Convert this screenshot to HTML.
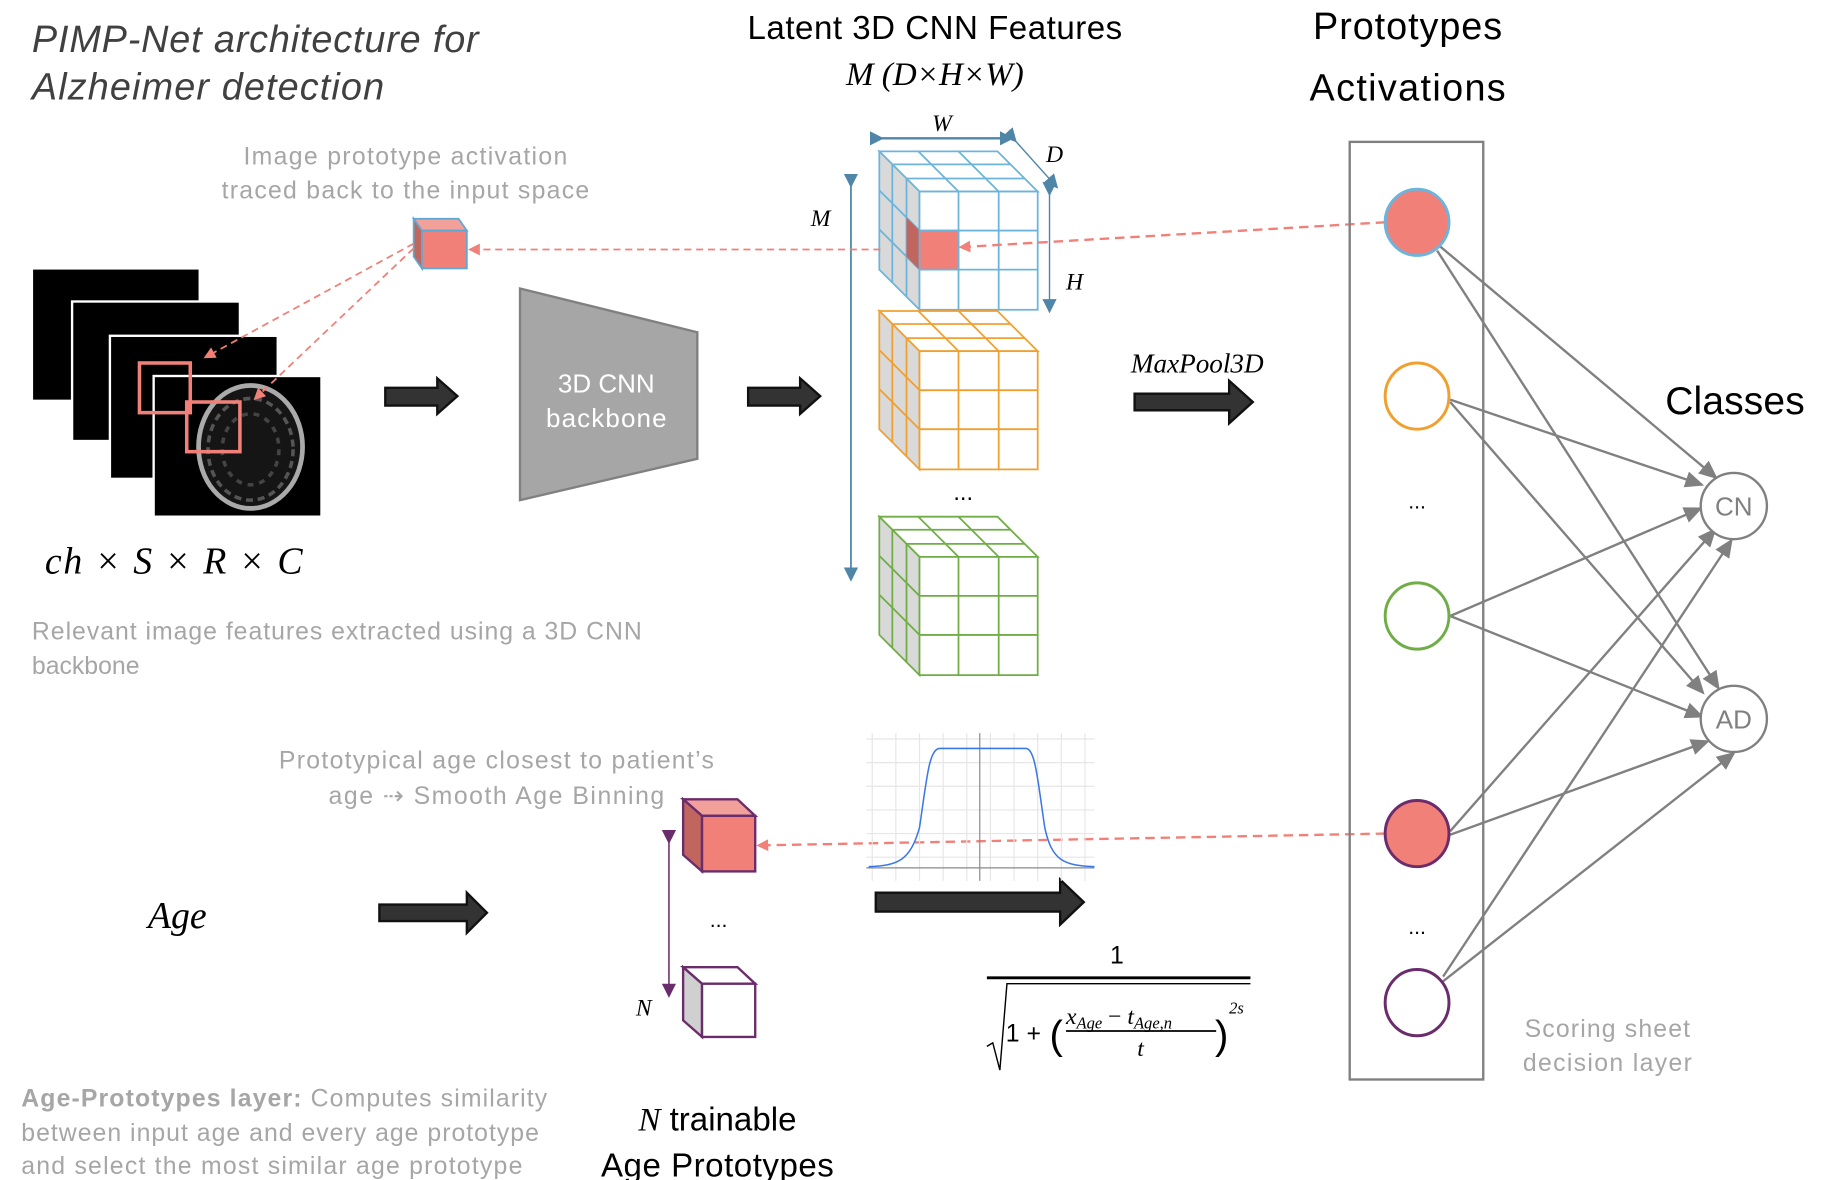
<!DOCTYPE html>
<html><head><meta charset="utf-8"><style>
html,body{margin:0;padding:0;background:#fff;}
svg{display:block;}
text{font-family:"Liberation Sans",sans-serif;}
.g{fill:#a6a6a6;font-size:21px;}
.m{font-family:"Liberation Serif",serif;font-style:italic;}
</style></head><body>
<svg width="1826" height="1180" viewBox="0 0 1545 998" preserveAspectRatio="none" xmlns="http://www.w3.org/2000/svg">
<defs>
<marker id="ar" markerWidth="10" markerHeight="10" refX="8" refY="5" orient="auto" markerUnits="userSpaceOnUse"><path d="M0,0 L10,5 L0,10 Z" fill="#f08078"/></marker>
<marker id="ag" markerWidth="16" markerHeight="14" refX="14" refY="7" orient="auto" markerUnits="userSpaceOnUse"><path d="M0,0 L16,7 L0,14 Z" fill="#808080"/></marker>
<marker id="ab" markerWidth="12" markerHeight="12" refX="10" refY="6" orient="auto" markerUnits="userSpaceOnUse"><path d="M0,0 L12,6 L0,12 Z" fill="#4f86a8"/></marker>
<marker id="ap" markerWidth="12" markerHeight="12" refX="10" refY="6" orient="auto" markerUnits="userSpaceOnUse"><path d="M0,0 L12,6 L0,12 Z" fill="#6b2c6b"/></marker>
</defs>

<!-- titles -->
<text x="27" y="44" font-size="32" font-style="italic" fill="#404040" textLength="378">PIMP-Net architecture for</text>
<text x="27" y="84" font-size="32" font-style="italic" fill="#404040" textLength="298">Alzheimer detection</text>
<text x="791" y="33" font-size="28" text-anchor="middle" textLength="317">Latent 3D CNN Features</text>
<text x="791" y="72" font-size="28" text-anchor="middle" class="m">M (D×H×W)</text>
<text x="1191" y="33" font-size="32" text-anchor="middle" textLength="160">Prototypes</text>
<text x="1191" y="85" font-size="32" text-anchor="middle" textLength="166">Activations</text>
<text x="1468" y="350" font-size="33" text-anchor="middle" textLength="118">Classes</text>

<text x="343" y="139" class="g" font-size="23" text-anchor="middle" textLength="274">Image prototype activation</text>
<text x="343" y="168" class="g" font-size="23" text-anchor="middle" textLength="311">traced back to the input space</text>

<!-- small cube -->
<polygon points="350,185 388,185 395,195 357,195" fill="#f2a09a" stroke="#5fa8d3" stroke-width="1.5"/>
<polygon points="350,185 357,195 357,227 350,217" fill="#c0665e" stroke="#5fa8d3" stroke-width="1.5"/>
<rect x="357" y="195" width="38" height="32" fill="#f08078" stroke="#5fa8d3" stroke-width="1.5"/>

<!-- MRI slices -->
<rect x="28" y="228" width="140" height="110" fill="#000"/>
<rect x="60" y="254" width="144" height="120" fill="#fff"/>
<rect x="62" y="256" width="140" height="116" fill="#000"/>
<rect x="92" y="283" width="144" height="123" fill="#fff"/>
<rect x="94" y="285" width="140" height="119" fill="#000"/>
<rect x="129" y="317" width="144" height="121" fill="#fff"/>
<rect x="131" y="319" width="140" height="117" fill="#000"/>
<ellipse cx="212" cy="378" rx="44" ry="52" fill="#151515" stroke="#aaa" stroke-width="4"/>
<ellipse cx="212" cy="380" rx="36" ry="43" fill="none" stroke="#555" stroke-width="3" stroke-dasharray="6 4"/>
<ellipse cx="212" cy="380" rx="24" ry="30" fill="none" stroke="#444" stroke-width="3" stroke-dasharray="5 5"/>
<rect x="118" y="307" width="43" height="42" fill="none" stroke="#f08078" stroke-width="3"/>
<rect x="158" y="340" width="45" height="42" fill="none" stroke="#f08078" stroke-width="3"/>
<line x1="350" y1="206" x2="174" y2="302" stroke="#f08078" stroke-width="1.5" stroke-dasharray="6 4" marker-end="url(#ar)"/>
<line x1="350" y1="210" x2="216" y2="337" stroke="#f08078" stroke-width="1.5" stroke-dasharray="6 4" marker-end="url(#ar)"/>
<text x="38" y="485" font-size="32" class="m" textLength="218">ch × S × R × C</text>

<!-- arrows -->
<polygon points="326,328 370,328 370,320 387,335 370,350 370,343 326,343" fill="#333" stroke="#111" stroke-width="2"/>
<polygon points="633,328 677,328 677,320 694,335 677,350 677,343 633,343" fill="#333" stroke="#111" stroke-width="2"/>
<polygon points="960,333 1040,333 1040,322 1060,340 1040,358 1040,347 960,347" fill="#333" stroke="#111" stroke-width="2"/>
<polygon points="321,765 395,765 395,755 412,772 395,789 395,779 321,779" fill="#333" stroke="#111" stroke-width="2"/>
<polygon points="741,755 897,755 897,744 917,763 897,782 897,771 741,771" fill="#333" stroke="#111" stroke-width="2"/>

<!-- backbone -->
<polygon points="440,244 590,281 590,388 440,423" fill="#a6a6a6" stroke="#808080" stroke-width="2"/>
<text x="513" y="332" font-size="22" fill="#fff" text-anchor="middle">3D CNN</text>
<text x="513" y="361" font-size="22" fill="#fff" text-anchor="middle" textLength="102">backbone</text>

<!-- M axis -->
<line x1="720" y1="157" x2="720" y2="490" stroke="#4f86a8" stroke-width="1.5" marker-end="url(#ab)" marker-start="url(#ab)"/>
<text x="686" y="191" font-size="20" class="m">M</text>

<!-- cubes -->
<g fill="none" stroke="#6cb4dc" stroke-width="1.5">
<polygon points="744,128 844,128 878,162 778,162" fill="#fff"/>
<polygon points="744,128 778,162 778,262 744,228" fill="#d9d9d9"/>
<line x1="777" y1="128" x2="811" y2="162"/><line x1="811" y1="128" x2="845" y2="162"/>
<line x1="755" y1="139" x2="855" y2="139"/><line x1="767" y1="151" x2="867" y2="151"/>
<line x1="755" y1="139" x2="755" y2="239"/><line x1="767" y1="151" x2="767" y2="251"/>
<line x1="744" y1="161" x2="778" y2="195"/><line x1="744" y1="194" x2="778" y2="228"/>
<rect x="778" y="162" width="100" height="100" fill="#fff"/>
<line x1="811" y1="162" x2="811" y2="262"/><line x1="845" y1="162" x2="845" y2="262"/>
<line x1="778" y1="195" x2="878" y2="195"/><line x1="778" y1="228" x2="878" y2="228"/>
</g>
<polygon points="767,184 778,195 778,228 767,217" fill="#c0665e"/>
<rect x="778" y="195" width="33" height="33" fill="#f08078" stroke="#6cb4dc" stroke-width="1.5"/>
<g fill="none" stroke="#f0a030" stroke-width="1.5">
<polygon points="744,263 844,263 878,297 778,297" fill="#fff"/>
<polygon points="744,263 778,297 778,397 744,363" fill="#d9d9d9"/>
<line x1="777" y1="263" x2="811" y2="297"/><line x1="811" y1="263" x2="845" y2="297"/>
<line x1="755" y1="274" x2="855" y2="274"/><line x1="767" y1="286" x2="867" y2="286"/>
<line x1="755" y1="274" x2="755" y2="374"/><line x1="767" y1="286" x2="767" y2="386"/>
<line x1="744" y1="296" x2="778" y2="330"/><line x1="744" y1="329" x2="778" y2="363"/>
<rect x="778" y="297" width="100" height="100" fill="#fff"/>
<line x1="811" y1="297" x2="811" y2="397"/><line x1="845" y1="297" x2="845" y2="397"/>
<line x1="778" y1="330" x2="878" y2="330"/><line x1="778" y1="363" x2="878" y2="363"/>
</g>
<text x="815" y="423" font-size="20" text-anchor="middle">...</text>
<g fill="none" stroke="#70ad47" stroke-width="1.5">
<polygon points="744,437 844,437 878,471 778,471" fill="#fff"/>
<polygon points="744,437 778,471 778,571 744,537" fill="#d9d9d9"/>
<line x1="777" y1="437" x2="811" y2="471"/><line x1="811" y1="437" x2="845" y2="471"/>
<line x1="755" y1="448" x2="855" y2="448"/><line x1="767" y1="460" x2="867" y2="460"/>
<line x1="755" y1="448" x2="755" y2="548"/><line x1="767" y1="460" x2="767" y2="560"/>
<line x1="744" y1="470" x2="778" y2="504"/><line x1="744" y1="503" x2="778" y2="537"/>
<rect x="778" y="471" width="100" height="100" fill="#fff"/>
<line x1="811" y1="471" x2="811" y2="571"/><line x1="845" y1="471" x2="845" y2="571"/>
<line x1="778" y1="504" x2="878" y2="504"/><line x1="778" y1="537" x2="878" y2="537"/>
</g>
<!-- dims -->
<line x1="746" y1="117" x2="856" y2="117" stroke="#4f86a8" stroke-width="2" marker-end="url(#ab)" marker-start="url(#ab)"/>
<text x="797" y="111" font-size="20" class="m" text-anchor="middle">W</text>
<line x1="859" y1="119" x2="894" y2="158" stroke="#4f86a8" stroke-width="1.2" marker-end="url(#ab)" marker-start="url(#ab)"/>
<text x="885" y="137" font-size="20" class="m">D</text>
<line x1="888" y1="164" x2="888" y2="263" stroke="#4f86a8" stroke-width="1.2" marker-end="url(#ab)" marker-start="url(#ab)"/>
<text x="902" y="245" font-size="20" class="m">H</text>

<!-- dashed red traces -->
<line x1="1172" y1="188" x2="813" y2="209" stroke="#f08078" stroke-width="2" stroke-dasharray="8 5" marker-end="url(#ar)"/>
<line x1="745" y1="211" x2="398" y2="211" stroke="#f08078" stroke-width="1.5" stroke-dasharray="6 4" marker-end="url(#ar)"/>
<line x1="1172" y1="705" x2="642" y2="715" stroke="#f08078" stroke-width="2" stroke-dasharray="8 5" marker-end="url(#ar)"/>

<text x="1013" y="315" font-size="23" class="m" text-anchor="middle">MaxPool3D</text>

<!-- proto box -->
<rect x="1142" y="120" width="113" height="793" fill="none" stroke="#808080" stroke-width="2"/>
<g stroke="#808080" stroke-width="2" marker-end="url(#ag)">
<line x1="1218" y1="208" x2="1452" y2="404"/>
<line x1="1216" y1="212" x2="1454" y2="582"/>
<line x1="1227" y1="338" x2="1440" y2="410"/>
<line x1="1227" y1="340" x2="1441" y2="586"/>
<line x1="1227" y1="521" x2="1439" y2="430"/>
<line x1="1227" y1="521" x2="1440" y2="606"/>
<line x1="1227" y1="703" x2="1451" y2="448"/>
<line x1="1227" y1="706" x2="1445" y2="627"/>
<line x1="1221" y1="826" x2="1465" y2="457"/>
<line x1="1221" y1="830" x2="1467" y2="637"/>
</g>
<ellipse cx="1199" cy="188" rx="27" ry="28" fill="#f08078" stroke="#6cb4dc" stroke-width="2.5"/>
<ellipse cx="1199" cy="335" rx="27" ry="28" fill="#fff" stroke="#f0a030" stroke-width="2.5"/>
<text x="1199" y="430" font-size="18" text-anchor="middle">...</text>
<ellipse cx="1199" cy="521" rx="27" ry="28" fill="#fff" stroke="#70ad47" stroke-width="2.5"/>
<ellipse cx="1199" cy="705" rx="27" ry="28" fill="#f08078" stroke="#6b2c6b" stroke-width="2.5"/>
<text x="1199" y="790" font-size="18" text-anchor="middle">...</text>
<ellipse cx="1199" cy="848" rx="27" ry="28" fill="#fff" stroke="#6b2c6b" stroke-width="2.5"/>

<circle cx="1467" cy="428" r="28" fill="#fff" stroke="#808080" stroke-width="2"/>
<text x="1467" y="436" font-size="22" fill="#808080" text-anchor="middle">CN</text>
<circle cx="1467" cy="608" r="28" fill="#fff" stroke="#808080" stroke-width="2"/>
<text x="1467" y="616" font-size="22" fill="#808080" text-anchor="middle">AD</text>
<text x="1360" y="877" class="g" font-size="23" text-anchor="middle" textLength="140">Scoring sheet</text>
<text x="1360" y="906" class="g" font-size="23" text-anchor="middle" textLength="143">decision layer</text>

<text x="27" y="541" class="g" textLength="516">Relevant image features extracted using a 3D CNN</text>
<text x="27" y="570" class="g">backbone</text>

<text x="420" y="650" class="g" font-size="23" text-anchor="middle" textLength="368">Prototypical age closest to patient’s</text>
<text x="420" y="680" class="g" font-size="23" text-anchor="middle" textLength="284">age ⇢ Smooth Age Binning</text>

<!-- age cubes -->
<polygon points="578,676 624,676 639,690 594,690" fill="#f2a09a" stroke="#6b2c6b" stroke-width="2"/>
<polygon points="578,676 594,690 594,737 578,723" fill="#c0665e" stroke="#6b2c6b" stroke-width="2"/>
<rect x="594" y="690" width="45" height="47" fill="#f08078" stroke="#6b2c6b" stroke-width="2"/>
<polygon points="578,818 624,818 639,832 594,832" fill="#fff" stroke="#6b2c6b" stroke-width="2"/>
<polygon points="578,818 594,832 594,877 578,863" fill="#d0d0d0" stroke="#6b2c6b" stroke-width="2"/>
<rect x="594" y="832" width="45" height="45" fill="#fff" stroke="#6b2c6b" stroke-width="2"/>
<line x1="566" y1="712" x2="566" y2="842" stroke="#6b2c6b" stroke-width="1.3" marker-end="url(#ap)" marker-start="url(#ap)"/>
<text x="538" y="859" font-size="20" class="m">N</text>
<text x="608" y="784" font-size="18" text-anchor="middle">...</text>

<text x="150" y="785" font-size="32" class="m" text-anchor="middle">Age</text>

<!-- plot -->
<g stroke="#e6e6e6" stroke-width="1">
<path d="M733,625H926M733,645H926M733,665H926M733,685H926M733,705H926M733,725H926M738,620V745M758,620V745M778,620V745M798,620V745M818,620V745M838,620V745M858,620V745M878,620V745M898,620V745M918,620V745"/>
</g>
<line x1="733" y1="734" x2="926" y2="734" stroke="#888" stroke-width="1"/>
<line x1="829" y1="620" x2="829" y2="745" stroke="#888" stroke-width="1"/>
<path d="M735,733 C760,732 770,728 778,700 C784,660 786,633 795,633 L868,633 C876,633 878,660 884,700 C890,728 900,732 926,733" fill="none" stroke="#3b78e7" stroke-width="1.3"/>

<!-- formula -->
<text x="945" y="815" font-size="21" font-family="Liberation Serif,serif" text-anchor="middle">1</text>
<line x1="835" y1="827" x2="1058" y2="827" stroke="#000" stroke-width="2.5"/>
<path d="M835,885 L840,882 L846,905 L852,832 L1058,832" fill="none" stroke="#000" stroke-width="1.2"/>
<text x="851" y="881" font-size="21" font-family="Liberation Serif,serif">1 +</text>
<text x="888" y="887" font-size="34" font-family="Liberation Serif,serif">(</text>
<text x="902" y="866" font-size="20" class="m">x<tspan font-size="14" dy="4">Age</tspan><tspan dy="-4" font-style="normal"> − </tspan>t<tspan font-size="14" dy="4">Age,n</tspan></text>
<line x1="902" y1="872" x2="1029" y2="872" stroke="#000" stroke-width="1.5"/>
<text x="965" y="893" font-size="20" class="m" text-anchor="middle">t</text>
<text x="1028" y="887" font-size="34" font-family="Liberation Serif,serif">)</text>
<text x="1040" y="857" font-size="14" class="m">2s</text>

<text x="18" y="936" class="g" textLength="445"><tspan font-weight="bold">Age-Prototypes layer:</tspan> Computes similarity</text>
<text x="18" y="965" class="g" textLength="438">between input age and every age prototype</text>
<text x="18" y="993" class="g" textLength="424">and select the most similar age prototype</text>

<text x="607" y="956" font-size="28" text-anchor="middle"><tspan class="m">N</tspan> trainable</text>
<text x="607" y="995" font-size="28" text-anchor="middle" textLength="197">Age Prototypes</text>
</svg>
</body></html>
